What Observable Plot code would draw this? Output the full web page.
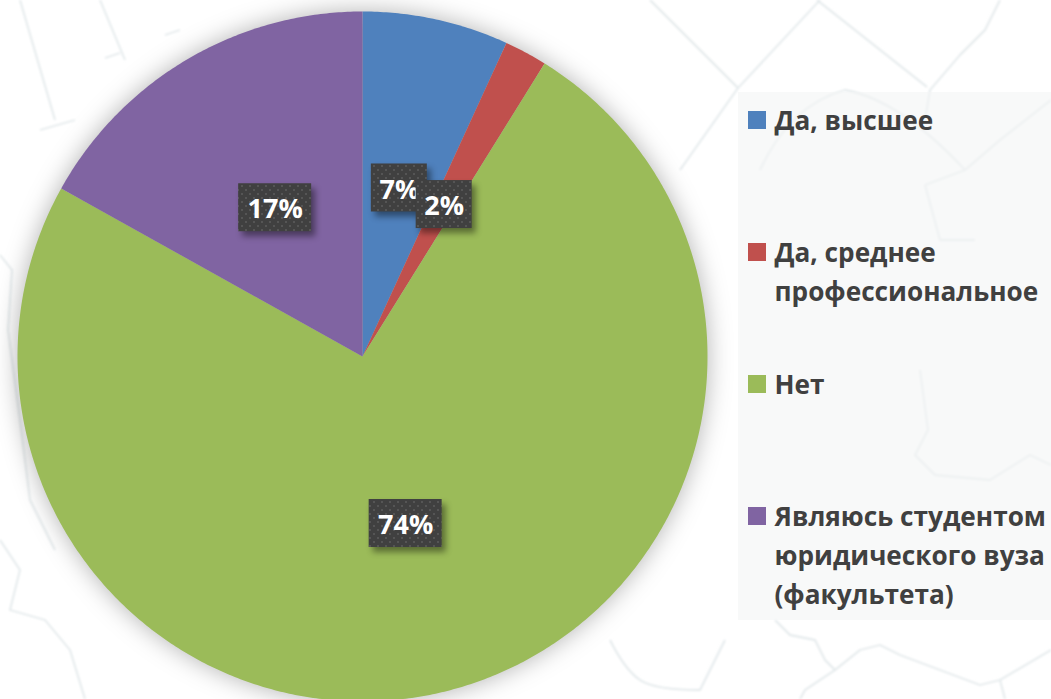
<!DOCTYPE html>
<html lang="ru">
<head>
<meta charset="utf-8">
<script src="https://cdn.jsdelivr.net/npm/d3@7"></script>
<script src="https://cdn.jsdelivr.net/npm/@observablehq/plot@0.6"></script>
<style>
html,body{margin:0;padding:0;overflow:hidden;background:#fff;width:1051px;height:699px}
svg{display:block}
</style>
</head>
<body>
<script>
const categories = ["Да, высшее", "Да, среднее\nпрофессиональное", "Нет", "Являюсь студентом\nюридического вуза\n(факультета)"];
const shares = [6.85, 2.0, 74.25, 16.9];
const colors = ["#4f81bd", "#c0504d", "#9bbb59", "#8064a2"];

const W = 1051, H = 699, cx = 362, cy = 356, R = 345;
const FONT = "'Open Sans', sans-serif";

// Decorative page backdrop only: a faint map texture behind the chart.
const backdrop = `<svg xmlns="http://www.w3.org/2000/svg" width="${W}" height="${H}">
<filter id="b"><feGaussianBlur stdDeviation="1.1"/></filter>
<g fill="none" stroke="#e3e9eb" stroke-width="1.8" stroke-linejoin="round" filter="url(#b)">
<path d="M650 0L738 88L820 0M738 88L680 170M817 0L927 87M1000 0L985 30L960 55L930 90L925 120"/>
<path d="M760 170Q790 105 845 90Q900 100 965 170M925 185L965 170L1000 140L1051 100M925 185L940 240L975 240"/>
<path d="M920 370L928 430L915 455L935 475L990 480L1030 455L1051 465"/>
<path d="M775 620L790 635L815 640L825 660L835 670L860 650L880 645L900 655L940 670L980 685L1000 680L1051 650M835 670L805 690L800 699M1000 680L1005 699"/>
<path d="M610 640Q625 670 640 680T700 690L725 640"/>
<path d="M0 255L12 270L8 330L20 420L30 500L55 550M0 540L20 570L10 610L45 620L70 650L85 699"/>
<path d="M20 0L55 120M100 0L125 60M40 130L75 120M105 58L120 53M165 35L180 30"/>
</g></svg>`;
document.body.style.backgroundImage = `url("data:image/svg+xml,${encodeURIComponent(backdrop)}")`;

const total = d3.sum(shares);
const polar = (frac, r) => {
  const a = frac * 2 * Math.PI;
  return {x: cx + r * Math.sin(a), y: cy - r * Math.cos(a)};
};

let acc = 0;
const sliceInfo = categories.map((name, i) => {
  const start = acc / total; acc += shares[i];
  const end = acc / total;
  return {name, start, end, value: shares[i], label: Math.round(shares[i] / total * 100) + "%"};
});
const slicePoints = sliceInfo.flatMap(s => {
  const n = Math.max(2, Math.ceil((s.end - s.start) * 720));
  const arc = d3.range(n + 1).map(k => ({name: s.name, ...polar(s.start + (s.end - s.start) * k / n, R)}));
  return [{name: s.name, x: cx, y: cy}, ...arc];
});
const labelData = sliceInfo.map(s => {
  const p = polar((s.start + s.end) / 2, R / 2);
  const w = s.label.length > 2 ? 73 : 56;
  return {...s, ...p, x1: p.x - w / 2, x2: p.x + w / 2, y1: p.y - 24, y2: p.y + 24};
});
const legendData = categories.map((name, i) => ({name, y: 120 + 132 * i}));

const defs = () => {
  const s = d3.create("svg:defs");
  const p = s.append("pattern").attr("id", "labelDots").attr("patternUnits", "userSpaceOnUse")
    .attr("width", 8).attr("height", 8);
  p.append("rect").attr("width", 8).attr("height", 8).attr("fill", "#404040");
  p.append("rect").attr("x", 1).attr("y", 1).attr("width", 2).attr("height", 2).attr("fill", "#555");
  p.append("rect").attr("x", 5).attr("y", 5).attr("width", 2).attr("height", 2).attr("fill", "#555");
  return s.node();
};

const chart = Plot.plot({
  width: W, height: H, margin: 0,
  style: {background: "transparent"},
  x: {domain: [0, W], range: [0, W], axis: null},
  y: {domain: [0, H], range: [0, H], axis: null},
  color: {domain: categories, range: colors},
  marks: [
    defs,
    Plot.rect([{}], {x1: 738, x2: W, y1: 92, y2: 620, fill: "#f4f5f5", fillOpacity: 0.6}),
    Plot.line(slicePoints, {
      x: "x", y: "y", z: "name", fill: "name", stroke: "none",
      imageFilter: "drop-shadow(0 0 12px rgba(0,0,0,.3))"
    }),
    // each label box and its text are drawn together, so a later box covers an earlier label
    labelData.map(d => [
      Plot.rect([d], {
        x1: "x1", x2: "x2", y1: "y1", y2: "y2", fill: "url(#labelDots)",
        imageFilter: "drop-shadow(4px 5px 3px rgba(0,0,0,.42))"
      }),
      Plot.text([d], {
        x: "x", y: p => p.y + 2, text: "label", fill: "white", fontSize: 27, fontWeight: 700,
        fontFamily: FONT, textAnchor: "middle", lineAnchor: "middle"
      })
    ]),
    Plot.rect(legendData, {
      x1: 748, x2: 766, y1: d => d.y - 9, y2: d => d.y + 9, fill: "name"
    }),
    Plot.text(legendData, {
      x: 774, y: d => d.y - 18, text: "name", fill: "#404040", fontSize: 26.2, fontWeight: 700,
      fontFamily: FONT, textAnchor: "start", lineAnchor: "top", lineHeight: 1.49
    })
  ]
});
document.body.appendChild(chart);
</script>
</body>
</html>
